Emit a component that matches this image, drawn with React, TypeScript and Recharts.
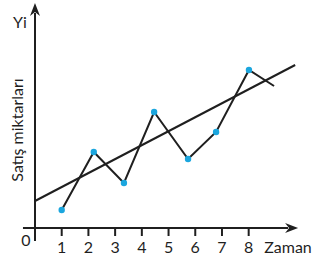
import { LineChart, Line, XAxis, YAxis, ReferenceLine } from "recharts";

// time values and sales amounts
const salesTime = [1, 2.2, 3.33, 4.46, 5.73, 6.78, 8.01, 8.95];
const salesAmount = [1.8, 7.6, 4.5, 11.6, 6.9, 9.6, 15.8, 14.2];
const trendTime = [0, 9.74];
const trendAmount = [2.7, 16.3];
const timeTicks = [1, 2, 3, 4, 5, 6, 7, 8];

const salesData = salesTime.map((x, i) => ({ x, y: salesAmount[i] }));
const trendData = trendTime.map((x, i) => ({ x, y: trendAmount[i] }));

const INK = "#1f1f1f";
const BLUE = "#1ba6de";
const FONT = "Lato, 'Open Sans', sans-serif";

const Arrow = (props: any) => {
  const { x1, y1, x2, y2 } = props;
  const dx = x2 - x1;
  const dy = y2 - y1;
  const len = Math.sqrt(dx * dx + dy * dy) || 1;
  const ux = dx / len;
  const uy = dy / len;
  const hl = 13;
  const hw = 5;
  const bx = x2 - ux * hl;
  const by = y2 - uy * hl;
  const nx = -uy;
  const ny = ux;
  return (
    <g>
      <line x1={x1} y1={y1} x2={bx + ux * 3} y2={by + uy * 3} stroke={INK} strokeWidth={2} />
      <path
        d={`M${x2},${y2} L${bx + nx * hw},${by + ny * hw} L${bx + ux * 4},${by + uy * 4} L${bx - nx * hw},${by - ny * hw} Z`}
        fill={INK}
      />
    </g>
  );
};

const SalesDot = (props: any) => {
  const { cx, cy, index } = props;
  if (index === salesData.length - 1) return <g key={`d${index}`} />;
  return <circle key={`d${index}`} cx={cx} cy={cy} r={3.2} fill={BLUE} />;
};

export default function App() {
  return (
    <div style={{ position: "absolute", left: 0, top: 0, width: 320, height: 262, background: "#fff" }}>
      <LineChart width={320} height={262} margin={{ top: 0, right: 0, bottom: 0, left: 0 }}>
        <XAxis
          type="number"
          dataKey="x"
          domain={[-1.31, 10.67]}
          ticks={timeTicks}
          allowDataOverflow
          axisLine={false}
          tickLine={{ stroke: INK, strokeWidth: 2 }}
          tickSize={8}
          tickMargin={6}
          height={34}
          tick={{ fill: INK, fontSize: 16, fontFamily: FONT }}
        />
        <YAxis type="number" dataKey="y" domain={[0, 22.8]} hide allowDataOverflow />
        <ReferenceLine
          segment={[{ x: -0.45, y: 0 }, { x: 9.85, y: 0 }]}
          ifOverflow="visible"
          shape={Arrow}
        />
        <ReferenceLine
          segment={[{ x: 0, y: -1.3 }, { x: 0, y: 22.5 }]}
          ifOverflow="visible"
          shape={Arrow}
        />
        <Line
          data={trendData}
          dataKey="y"
          type="linear"
          stroke={INK}
          strokeWidth={2}
          dot={false}
          activeDot={false}
          isAnimationActive={false}
        />
        <Line
          data={salesData}
          dataKey="y"
          type="linear"
          stroke={INK}
          strokeWidth={2}
          dot={SalesDot}
          activeDot={false}
          isAnimationActive={false}
        />
      </LineChart>
      <svg
        width={320}
        height={262}
        style={{ position: "absolute", left: 0, top: 0, pointerEvents: "none" }}
        fontFamily={FONT}
        fill={INK}
        fontSize={16}
      >
        <text x={20} y={28} textAnchor="middle">Yi</text>
        <text x={26} y={246} textAnchor="middle">0</text>
        <text x={288} y={253} textAnchor="middle">Zaman</text>
        <text
          x={16}
          y={130}
          textAnchor="middle"
          dominantBaseline="central"
          transform="rotate(-90 16 130)"
        >
          Satış miktarları
        </text>
      </svg>
    </div>
  );
}
